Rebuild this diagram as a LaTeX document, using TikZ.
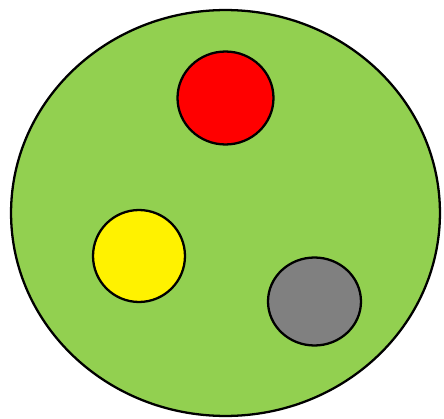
\documentclass[tikz,border=0pt]{standalone}
\usepackage{tikz}
\usetikzlibrary{shapes.geometric}

\definecolor{fieldgreen}{HTML}{92D050}

\begin{document}
\begin{tikzpicture}[
  x=0.02cm, y=-0.02cm,
  blob/.style={draw, ellipse, line width=1.3pt, inner sep=0pt},
  dot/.style={blob, minimum width=1.84cm, minimum height=1.84cm}
]
\useasboundingbox (0,0) rectangle (444,419);

\node[blob, fill=fieldgreen, minimum width=8.58cm, minimum height=8.12cm] (field) at (225.5,213) {};

\node[dot, fill=red, minimum width=1.92cm, minimum height=1.86cm] (reddot) at (225.5,98) {};
\node[dot, fill=yellow] (yellowdot) at (139,256) {};
\node[dot, fill=gray, minimum width=1.86cm, minimum height=1.76cm] (greydot) at (314.5,301.5) {};

\end{tikzpicture}
\end{document}
